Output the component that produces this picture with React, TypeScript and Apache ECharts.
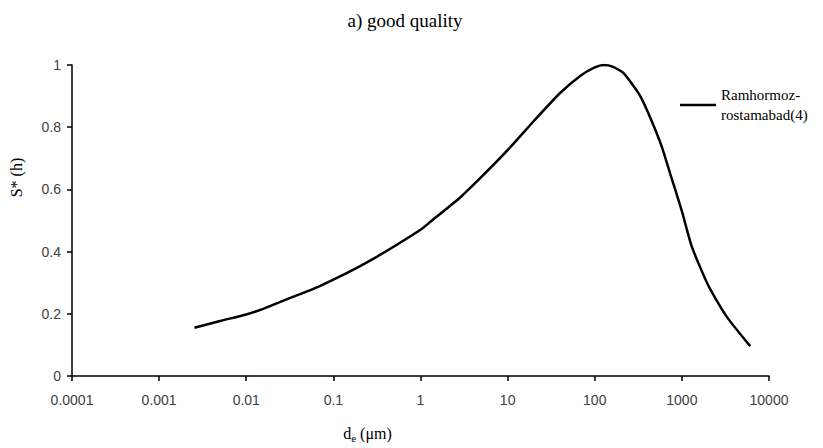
import React, { useEffect, useRef } from "react";
import * as echarts from "echarts";

const titleText = "a) good quality";
const seriesName = "Ramhormoz-\nrostamabad(4)";
const diameters = [
  0.00254, 0.005, 0.01, 0.0157, 0.03, 0.0589, 0.1, 0.186, 0.3, 0.535, 1.0, 1.29, 2.85, 5,
  10.7, 20, 40, 68, 100, 126, 160, 214, 333, 450, 589, 735, 1000, 1300, 2018, 3281, 6080,
];
const sValues = [
  0.155, 0.177, 0.198, 0.216, 0.248, 0.28, 0.31, 0.348, 0.38, 0.422, 0.47, 0.495, 0.574, 0.64,
  0.735, 0.82, 0.91, 0.965, 0.992, 1.0, 0.995, 0.974, 0.9, 0.82, 0.737, 0.65, 0.53, 0.416,
  0.29, 0.19, 0.096,
];
const xMin = 0.0001;
const xMax = 10000;
const yMin = 0;
const yMax = 1;
const yInterval = 0.2;

function fmtLog(v: number): string {
  const e = Math.round(Math.log10(v));
  if (e < 0) return "0." + "0".repeat(-e - 1) + "1";
  return "1" + "0".repeat(e);
}

export default function App() {
  const ref = useRef<HTMLDivElement>(null);
  useEffect(() => {
    document.body.style.margin = "0";
    if (!ref.current) return;
    const chart = echarts.init(ref.current, undefined, { renderer: "svg" });
    const serif = "Liberation Serif";
    const sans = "Liberation Sans";
    chart.setOption({
      animation: false,
      backgroundColor: "#ffffff",
      title: {
        text: titleText,
        left: 400,
        top: 6,
        textAlign: "center",
        textStyle: { fontFamily: serif, fontSize: 19, fontWeight: "normal", color: "#000" },
      },
      legend: {
        left: 680,
        top: 75,
        padding: 0,
        itemWidth: 36,
        itemHeight: 2.5,
        icon: "rect",
        itemStyle: { color: "#000" },
        textStyle: {
          fontFamily: serif,
          fontSize: 15,
          color: "#000",
          lineHeight: 20,
          padding: [20, 0, 0, 0],
        },
        data: [seriesName],
      },
      grid: { left: 72, right: 54, top: 65, bottom: 66, containLabel: false },
      xAxis: {
        type: "log",
        logBase: 10,
        min: xMin,
        max: xMax,
        name: "d{sub|e} (μm)",
        nameLocation: "middle",
        nameGap: 48,
        nameTextStyle: {
          fontFamily: serif,
          fontSize: 16,
          color: "#000",
          padding: [0, 106, 0, 0],
          rich: {
            sub: { fontFamily: serif, fontSize: 11, color: "#000", verticalAlign: "bottom", padding: [8, 0, 0, 0] },
          },
        },
        axisLine: { lineStyle: { color: "#000", width: 1.5 } },
        axisTick: { show: true, inside: false, length: 5, lineStyle: { color: "#000", width: 1.5 } },
        minorTick: { show: false },
        splitLine: { show: false },
        axisLabel: {
          formatter: fmtLog,
          fontFamily: sans,
          fontSize: 14,
          color: "#404040",
          margin: 17,
        },
      },
      yAxis: {
        type: "value",
        min: yMin,
        max: yMax,
        interval: yInterval,
        name: "S* (h)",
        nameLocation: "middle",
        nameGap: 48,
        nameTextStyle: {
          fontFamily: serif,
          fontSize: 16,
          color: "#000",
          padding: [0, 0, 0, 86],
        },
        axisLine: { show: true, lineStyle: { color: "#000", width: 1.5 } },
        axisTick: { show: true, inside: false, length: 5, lineStyle: { color: "#000", width: 1.5 } },
        splitLine: { show: false },
        axisLabel: {
          fontFamily: sans,
          fontSize: 14,
          color: "#404040",
          margin: 11,
        },
      },
      series: [
        {
          name: seriesName,
          type: "line",
          data: diameters.map((d, i) => [d, sValues[i]]),
          symbol: "none",
          smooth: 0.2,
          lineStyle: { color: "#000", width: 2.5 },
          itemStyle: { color: "#000" },
        },
      ],
    });
    return () => chart.dispose();
  }, []);
  return <div ref={ref} style={{ width: 823, height: 448 }} />;
}
